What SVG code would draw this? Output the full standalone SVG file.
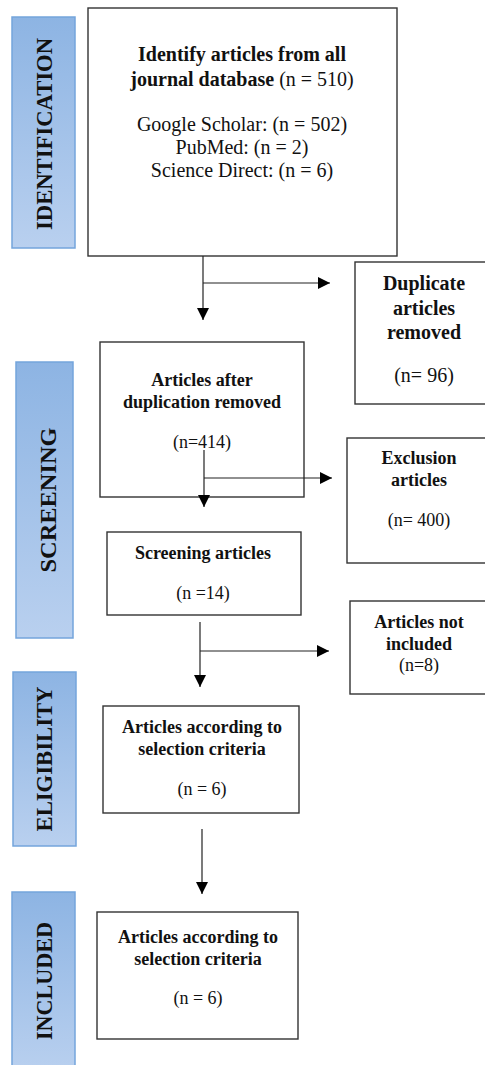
<svg xmlns="http://www.w3.org/2000/svg" width="485" height="1065" viewBox="0 0 485 1065">
<defs>
<linearGradient id="bar" x1="0" y1="0" x2="0" y2="1">
<stop offset="0" stop-color="#8db4e3"/>
<stop offset="1" stop-color="#b9d0ef"/>
</linearGradient>
<marker id="ah" viewBox="0 0 12 12" refX="12" refY="6" markerWidth="12" markerHeight="12" markerUnits="userSpaceOnUse" orient="auto">
<path d="M0,0 L12,6 L0,12 Z" fill="#000"/>
</marker>
<style>
.bar{fill:url(#bar);stroke:#74a5dc;stroke-width:1.5}
.bt{font-family:"Liberation Serif","Times New Roman",serif;font-weight:bold;font-size:24px;fill:#111;text-anchor:middle}
.box{fill:#fff;stroke:#333;stroke-width:1.4}
.t{font-family:"Liberation Serif","Times New Roman",serif;fill:#111;text-anchor:middle}
.b{font-weight:bold}
.s20{font-size:20px}
.s18{font-size:18px}
.ln{stroke:#222;stroke-width:1.2;fill:none}
</style>
</defs>
<g id="bar-identification">
<rect class="bar" x="12" y="17" width="63" height="231"/>
<text class="bt" transform="translate(52,134) rotate(-90)" textLength="192" lengthAdjust="spacingAndGlyphs">IDENTIFICATION</text>
</g>
<g id="bar-screening">
<rect class="bar" x="16" y="362" width="57" height="276"/>
<text class="bt" transform="translate(56,500) rotate(-90)" textLength="145" lengthAdjust="spacingAndGlyphs">SCREENING</text>
</g>
<g id="bar-eligibility">
<rect class="bar" x="13" y="672" width="63" height="174"/>
<text class="bt" transform="translate(52,759) rotate(-90)" textLength="145" lengthAdjust="spacingAndGlyphs">ELIGIBILITY</text>
</g>
<g id="bar-included">
<rect class="bar" x="12" y="892" width="63" height="180"/>
<text class="bt" transform="translate(52,981) rotate(-90)" textLength="118" lengthAdjust="spacingAndGlyphs">INCLUDED</text>
</g>
<g id="identify">
<rect class="box" x="88" y="8" width="309" height="248"/>
<text class="t s20" x="242" y="61"><tspan class="b">Identify articles from all</tspan></text>
<text class="t s20" x="242" y="86"><tspan class="b">journal database</tspan> (n = 510)</text>
<text class="t s20" x="242" y="131">Google Scholar: (n = 502)</text>
<text class="t s20" x="242" y="154">PubMed: (n = 2)</text>
<text class="t s20" x="242" y="177">Science Direct: (n = 6)</text>
</g>
<g id="duplicates">
<rect class="box" x="355" y="262" width="140" height="142"/>
<text class="t s20 b" x="424" y="290">Duplicate</text>
<text class="t s20 b" x="424" y="315">articles</text>
<text class="t s20 b" x="424" y="339">removed</text>
<text class="t s20" x="424" y="382">(n= 96)</text>
</g>
<g id="after-dup">
<rect class="box" x="100" y="342" width="204" height="155"/>
<text class="t s18 b" x="202" y="386">Articles after</text>
<text class="t s18 b" x="202" y="408">duplication removed</text>
<text class="t s18" x="202" y="448">(n=414)</text>
</g>
<g id="exclusion">
<rect class="box" x="347" y="438" width="148" height="125"/>
<text class="t s18 b" x="419" y="464">Exclusion</text>
<text class="t s18 b" x="419" y="486">articles</text>
<text class="t s18" x="419" y="526">(n= 400)</text>
</g>
<g id="screening">
<rect class="box" x="107" y="532" width="194" height="83"/>
<text class="t s18 b" x="203" y="559">Screening articles</text>
<text class="t s18" x="203" y="599">(n =14)</text>
</g>
<g id="not-included">
<rect class="box" x="350" y="601" width="145" height="93"/>
<text class="t s18 b" x="419" y="628">Articles not</text>
<text class="t s18 b" x="419" y="650">included</text>
<text class="t s18" x="419" y="671">(n=8)</text>
</g>
<g id="eligibility">
<rect class="box" x="103" y="706" width="196" height="107"/>
<text class="t s18 b" x="202" y="733">Articles according to</text>
<text class="t s18 b" x="202" y="755">selection criteria</text>
<text class="t s18" x="202" y="795">(n = 6)</text>
</g>
<g id="included">
<rect class="box" x="97" y="912" width="201" height="127"/>
<text class="t s18 b" x="198" y="943">Articles according to</text>
<text class="t s18 b" x="198" y="965">selection criteria</text>
<text class="t s18" x="198" y="1004">(n = 6)</text>
</g>
<g id="connectors">
<line class="ln" x1="203" y1="256" x2="203" y2="320" marker-end="url(#ah)"/>
<line class="ln" x1="203" y1="283" x2="330" y2="283" marker-end="url(#ah)"/>
<line class="ln" x1="204" y1="450" x2="204" y2="507" marker-end="url(#ah)"/>
<line class="ln" x1="204" y1="478" x2="332" y2="478" marker-end="url(#ah)"/>
<line class="ln" x1="200" y1="622" x2="200" y2="687" marker-end="url(#ah)"/>
<line class="ln" x1="200" y1="651" x2="329" y2="651" marker-end="url(#ah)"/>
<line class="ln" x1="202" y1="829" x2="202" y2="894" marker-end="url(#ah)"/>
</g>
</svg>
